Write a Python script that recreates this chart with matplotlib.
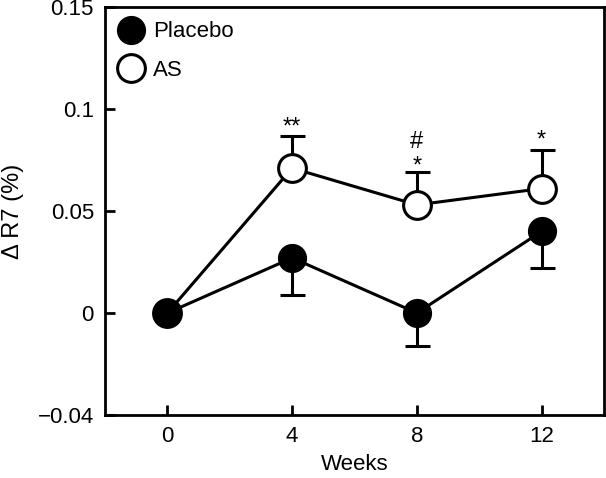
import matplotlib.pyplot as plt
from matplotlib.lines import Line2D

plt.rcParams['font.family'] = ['Liberation Sans', 'DejaVu Sans']

# ── data ─────────────────────────────────────────────────────────────────────
weeks = [0, 4, 8, 12]
placebo = [0.0, 0.027, 0.0, 0.040]
placebo_err = [0.0, 0.018, 0.016, 0.018]
as_vals = [0.0, 0.071, 0.053, 0.061]
as_err = [0.0, 0.016, 0.016, 0.019]
# significance marks: (week, y position, text)
marks = [(4, 0.091, '**'), (8, 0.072, '*'), (8, 0.084, '#'), (12, 0.0845, '*')]

yticks = [-0.05, 0, 0.05, 0.1, 0.15]
yticklabels = ['\u22120.04', '0', '0.05', '0.1', '0.15']

# ── figure ───────────────────────────────────────────────────────────────────
fig = plt.figure(figsize=(6.06, 4.78), dpi=100)
ax = fig.add_axes([0.1733, 0.1318, 0.8234, 0.8536])

lw = 2.2
ax.errorbar(weeks, placebo, yerr=[placebo_err, [0] * 4], fmt='none',
            ecolor='black', elinewidth=lw, capsize=9, capthick=lw, zorder=1)
ax.errorbar(weeks, as_vals, yerr=[[0] * 4, as_err], fmt='none',
            ecolor='black', elinewidth=lw, capsize=9, capthick=lw, zorder=1)

ax.plot(weeks, as_vals, '-o', color='black', lw=lw, markersize=20,
        markerfacecolor='white', markeredgecolor='black', markeredgewidth=lw, zorder=3)
ax.plot(weeks, placebo, '-o', color='black', lw=lw, markersize=20,
        markerfacecolor='black', markeredgecolor='black', zorder=4)

for x, y, t in marks:
    ax.text(x, y, t, ha='center', va='center', fontsize=17)

ax.set_xlim(-2, 14)
ax.set_ylim(-0.05, 0.15)
ax.set_xticks(weeks)
ax.set_yticks(yticks)
ax.set_yticklabels(yticklabels)
ax.tick_params(direction='in', length=7, width=2, labelsize=16, pad=8)
for s in ax.spines.values():
    s.set_linewidth(2)

ax.set_xlabel('Weeks', fontsize=16, labelpad=5)
ax.set_ylabel('\u0394 R7 (%)', fontsize=17, labelpad=10)

handles = [
    Line2D([0], [0], marker='o', ls='none', markersize=20, color='black',
           markerfacecolor='black', label='Placebo'),
    Line2D([0], [0], marker='o', ls='none', markersize=20, color='black',
           markerfacecolor='white', markeredgewidth=lw, label='AS'),
]
ax.legend(handles=handles, loc='upper left', frameon=False, fontsize=16,
          handletextpad=0.5, labelspacing=0.8, borderaxespad=0.3,
          borderpad=0.35, handlelength=1.0)

fig.savefig('out.png', dpi=100)
